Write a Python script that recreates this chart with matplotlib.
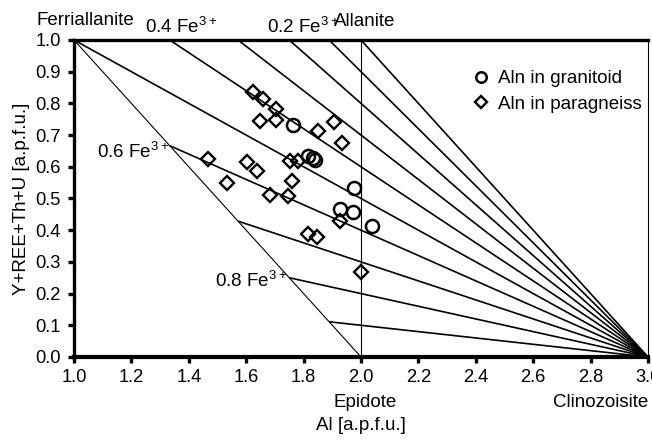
import matplotlib
matplotlib.use("Agg")
import matplotlib.pyplot as plt

plt.rcParams["font.family"] = ["Liberation Sans", "DejaVu Sans"]
plt.rcParams["mathtext.fontset"] = "custom"
plt.rcParams["mathtext.rm"] = "Liberation Sans"

# Aln in granitoid
gran_al = [1.764, 1.816, 1.832, 1.840, 1.977, 1.927, 1.973, 2.037]
gran_ree = [0.732, 0.634, 0.628, 0.622, 0.532, 0.466, 0.458, 0.413]

# Aln in paragneiss
para_al = [1.625, 1.660, 1.704, 1.648, 1.704, 1.851, 1.906, 1.935,
           1.468, 1.602, 1.636, 1.753, 1.782, 1.532, 1.761, 1.683,
           1.747, 1.927, 1.816, 1.846, 1.999]
para_ree = [0.837, 0.813, 0.781, 0.745, 0.748, 0.714, 0.742, 0.674,
            0.624, 0.616, 0.588, 0.619, 0.619, 0.548, 0.555, 0.511,
            0.508, 0.430, 0.388, 0.377, 0.269]

# pendenze delle rette che partono dalla clinozoisite (3, 0)
fan_slopes = [0.1, 0.2, 0.3, 0.4, 0.5, 0.6, 0.7, 0.8, 0.9, 1.0]

fig = plt.figure(figsize=(6.52, 4.41), dpi=100)
ax = fig.add_axes([0.1135, 0.1905, 0.8804, 0.7188])

# fascio di rette verso (3, 0)
for k in fan_slopes:
    if k >= 0.5:
        x0 = 3 - 1 / k
        y0 = 1.0
    else:
        x0 = (2 - 3 * k) / (1 - k)
        y0 = 2 - x0
    ax.plot([x0, 3.0], [y0, 0.0], color="black", lw=1.2, solid_capstyle="butt")

# ferriallanite - epidoto e epidoto - allanite
ax.plot([1.0, 2.0], [1.0, 0.0], color="black", lw=0.8)
ax.plot([2.0, 2.0], [0.0, 1.0], color="black", lw=0.8)

ax.plot(gran_al, gran_ree, linestyle="none", marker="o", ms=9.4, mfc="none",
        mec="black", mew=1.8, label="Aln in granitoid")
ax.plot(para_al, para_ree, linestyle="none", marker="D", ms=7.4, mfc="none",
        mec="black", mew=1.7, label="Aln in paragneiss")

ax.set_xlim(1.0, 3.0)
ax.set_ylim(0.0, 1.0)
ax.set_xticks([1.0, 1.2, 1.4, 1.6, 1.8, 2.0, 2.2, 2.4, 2.6, 2.8, 3.0])
ax.set_yticks([0.0, 0.1, 0.2, 0.3, 0.4, 0.5, 0.6, 0.7, 0.8, 0.9, 1.0])
ax.xaxis.set_major_formatter(matplotlib.ticker.FormatStrFormatter("%.1f"))
ax.yaxis.set_major_formatter(matplotlib.ticker.FormatStrFormatter("%.1f"))
ax.tick_params(direction="out", length=4.5, width=2.4, labelsize=13.2)
ax.tick_params(axis="y", pad=5)
ax.tick_params(axis="x", pad=4.5)

ax.spines["left"].set_linewidth(2.4)
ax.spines["bottom"].set_linewidth(3.0)
ax.spines["top"].set_linewidth(2.4)
ax.spines["right"].set_linewidth(0.8)
for s in ax.spines.values():
    s.set_zorder(5)

fs = 13.5
ax.text(0.871, 1.047, "Ferriallanite", fontsize=fs, va="baseline", ha="left")
ax.text(1.247, 1.023, "0.4 Fe$^{3+}$", fontsize=fs, va="baseline", ha="left")
ax.text(1.673, 1.023, "0.2 Fe$^{3+}$", fontsize=fs, va="baseline", ha="left")
ax.text(1.905, 1.045, "Allanite", fontsize=fs, va="baseline", ha="left")
ax.text(1.079, 0.628, "0.6 Fe$^{3+}$", fontsize=fs, va="baseline", ha="left")
ax.text(1.491, 0.220, "0.8 Fe$^{3+}$", fontsize=fs, va="baseline", ha="left")
ax.text(2.014, -0.158, "Epidote", fontsize=fs, va="baseline", ha="center")
ax.text(2.835, -0.158, "Clinozoisite", fontsize=fs, va="baseline", ha="center")

ax.set_xlabel("Al [a.p.f.u.]", fontsize=fs, labelpad=22)
ax.set_ylabel("Y+REE+Th+U [a.p.f.u.]", fontsize=fs, labelpad=4)

ax.legend(loc="upper left", bbox_to_anchor=(0.692, 0.905), frameon=False,
          fontsize=fs, markerscale=0.8, handlelength=1.0, handletextpad=0.45,
          borderpad=0, borderaxespad=0, labelspacing=0.45)

fig.savefig("out.png", dpi=100)
